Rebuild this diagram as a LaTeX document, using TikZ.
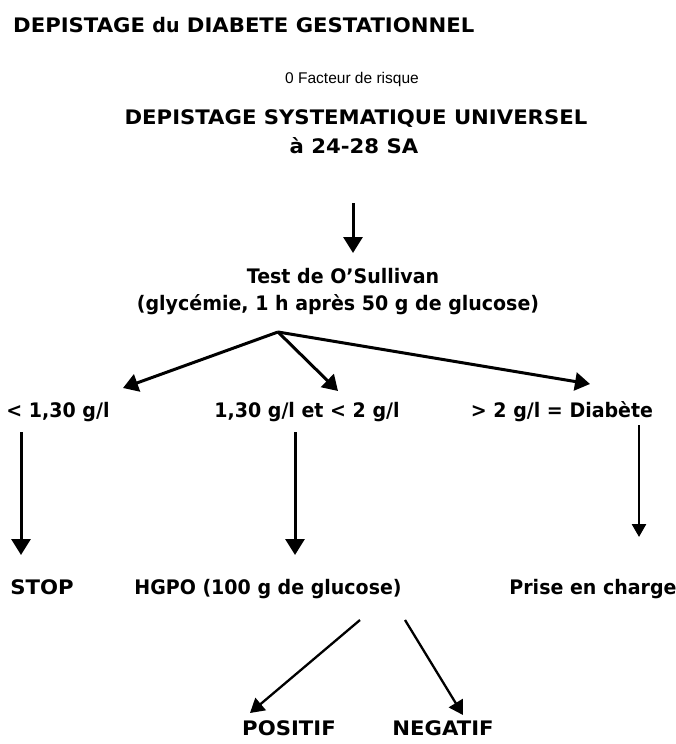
\documentclass[tikz,border=0pt]{standalone}
\usepackage{fontspec}
\setmainfont{DejaVu Sans}
\newfontfamily\lowfont{DejaVu Sans Bold}[FakeStretch=0.95]
\newfontfamily\capsfont{DejaVu Sans Bold}[FakeStretch=1.06]
\newfontfamily\arialfont{Liberation Sans}
\usetikzlibrary{arrows.meta,calc}
\begin{document}
\begin{tikzpicture}[x=1pt,y=-1pt,
  txt/.style={inner sep=0pt, font=\lowfont\fontsize{20}{23}\selectfont},
  captxt/.style={inner sep=0pt, font=\capsfont\fontsize{20}{23}\selectfont},
  small/.style={inner sep=0pt, font=\arialfont\fontsize{15.5}{19}\selectfont},
  bigarrow/.style={line width=3pt, -{Triangle[length=16pt,width=19pt]}},
  forkarrow/.style={line width=3pt, -{Triangle[length=15pt,width=18pt]}},
  midarrow/.style={line width=2.6pt, -{Triangle[length=13pt,width=14pt]}},
  thinarrow/.style={line width=2.3pt, -{Triangle[length=14pt,width=16pt]}}]
\useasboundingbox[fill=white] (0,0) rectangle (676,744);

\node[captxt, anchor=base west] (title) at (13,32) {DEPISTAGE {\lowfont du} DIABETE GESTATIONNEL};
\node[small, anchor=base] (facteur) at (352,83) {0 Facteur de risque};
\node[captxt, anchor=base] (ds1) at (356,124) {DEPISTAGE SYSTEMATIQUE UNIVERSEL};
\node[captxt, anchor=base] (ds2) at (354,153) {à 24-28 SA};
\node[txt, anchor=base] (test1) at (343,283) {Test de O’Sullivan};
\node[txt, anchor=base] (test2) at (338,310) {(glycémie, 1 h après 50 g de glucose)};

\node[txt, anchor=base] (lo) at (58,417) {< 1,30 g/l};
\node[txt, anchor=base] (mid) at (307,417) {1,30 g/l et < 2 g/l};
\node[txt, anchor=base] (hi) at (562,417) {> 2 g/l = Diabète};

\node[captxt, anchor=base] (stop) at (42,594) {STOP};
\node[txt, anchor=base] (hgpo) at (268,594) {HGPO (100 g de glucose)};
\node[txt, anchor=base] (prise) at (593,594) {Prise en charge};

\node[captxt, anchor=base] (pos) at (289,735) {POSITIF};
\node[captxt, anchor=base] (neg) at (443,735) {NEGATIF};

% arrow endpoints
\coordinate (a0s) at (353,203); \coordinate (a0e) at (353,253);
\coordinate (fork) at (278,332);
\coordinate (tlo) at (123,388); \coordinate (tmid) at (338,391); \coordinate (thi) at (590,384);
\coordinate (v1s) at (21,432); \coordinate (v1e) at (21,555);
\coordinate (v2s) at (295,432); \coordinate (v2e) at (295,555);
\coordinate (v3s) at (639,425); \coordinate (v3e) at (639,537);
\coordinate (dls) at (360,620); \coordinate (dle) at (250,713);
\coordinate (drs) at (405,620); \coordinate (dre) at (463,715);

\draw[bigarrow] (a0s) -- (a0e);
\draw[forkarrow] (fork) -- (tlo);
\draw[forkarrow] (fork) -- (tmid);
\draw[forkarrow] (fork) -- (thi);
\draw[bigarrow] (v1s) -- (v1e);
\draw[bigarrow] (v2s) -- (v2e);
\draw[midarrow] (v3s) -- (v3e);
\draw[thinarrow] (dls) -- (dle);
\draw[thinarrow] (drs) -- (dre);
\end{tikzpicture}
\end{document}
